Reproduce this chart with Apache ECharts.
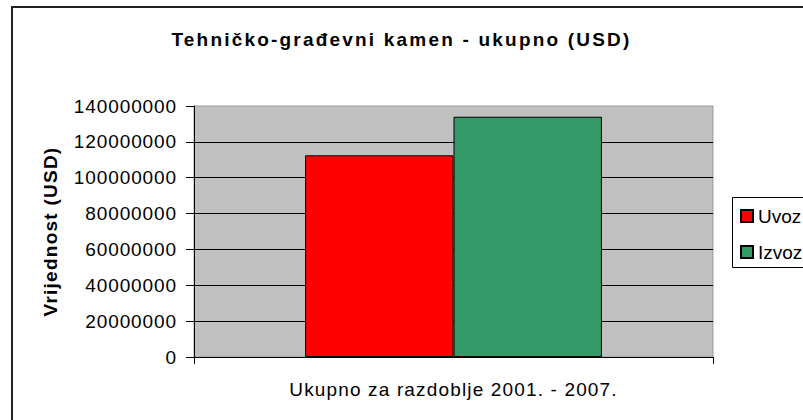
<!DOCTYPE html>
<html>
<head>
<meta charset="utf-8">
<script src="https://cdn.jsdelivr.net/npm/echarts@6/dist/echarts.min.js"></script>
<style>html,body{margin:0;padding:0;background:#fff}#c{width:803px;height:420px}</style>
</head>
<body>
<div id="c"></div>
<script>
const categories = ['Ukupno za razdoblje 2001. - 2007.'];
const seriesNames = ['Uvoz', 'Izvoz'];
const uvoz = [112500000];
const izvoz = [134000000];
const yMin = 0, yMax = 140000000, yInterval = 20000000;
const titleText = 'Tehničko-građevni kamen - ukupno (USD)';
const yAxisName = 'Vrijednost (USD)';

const FONT = '"Liberation Sans", Arial, sans-serif';
const chart = echarts.init(document.getElementById('c'), null, {renderer: 'svg'});
chart.setOption({
  animation: false,
  backgroundColor: '#fff',
  textStyle: {fontFamily: FONT, color: '#000'},
  title: {
    text: titleText,
    left: 'center', top: 30, padding: 0,
    textStyle: {fontFamily: FONT, fontSize: 19, fontWeight: 'bold', color: '#000'}
  },
  graphic: [
    {type: 'rect', z: -1, shape: {x: 12, y: 7, width: 900, height: 500},
     style: {fill: 'none', stroke: '#222', lineWidth: 2}},
    {type: 'rect', z: -1, shape: {x: 732.5, y: 197.5, width: 200, height: 70},
     style: {fill: '#fff', stroke: '#000', lineWidth: 1}}
  ],
  legend: {
    orient: 'vertical', left: 740, top: 206, padding: 0,
    itemWidth: 12, itemHeight: 12, itemGap: 16, icon: 'rect',
    textStyle: {fontFamily: FONT, fontSize: 19, color: '#000', lineHeight: 20},
    data: seriesNames
  },
  grid: {
    left: 194, right: 90, top: 106, bottom: 63,
    show: true, backgroundColor: '#c0c0c0', borderColor: '#999', borderWidth: 1
  },
  xAxis: {
    type: 'category', data: categories,
    axisLine: {lineStyle: {color: '#000', width: 1}},
    axisTick: {show: true, length: 7, lineStyle: {color: '#000'}},
    axisLabel: {fontFamily: FONT, fontSize: 19, color: '#000', margin: 23}
  },
  yAxis: {
    type: 'value', min: yMin, max: yMax, interval: yInterval,
    name: yAxisName, nameLocation: 'middle', nameGap: 134,
    nameTextStyle: {fontFamily: FONT, fontSize: 19, fontWeight: 'bold', color: '#000'},
    axisLine: {show: true, lineStyle: {color: '#000', width: 1}},
    axisTick: {show: true, length: 8, lineStyle: {color: '#000'}},
    axisLabel: {fontFamily: FONT, fontSize: 19, color: '#000', margin: 17,
                formatter: v => String(v)},
    splitLine: {show: true, showMaxLine: false, lineStyle: {color: '#000', width: 1}}
  },
  series: [
    {name: seriesNames[0], type: 'bar', data: uvoz, barGap: '0%', barCategoryGap: '42.8%',
     itemStyle: {color: '#ff0000', borderColor: '#000', borderWidth: 1}},
    {name: seriesNames[1], type: 'bar', data: izvoz, barGap: '0%', barCategoryGap: '42.8%',
     itemStyle: {color: '#339966', borderColor: '#000', borderWidth: 1}}
  ]
});

function spaceText() {
  document.querySelectorAll('#c text').forEach(t => {
    const s = t.textContent;
    let ls = 0.9;
    if (s === titleText) ls = 2.2;
    else if (s === yAxisName) ls = 1.25;
    else if (s === categories[0]) ls = 1.15;
    else if (seriesNames.includes(s)) ls = 0;
    t.setAttribute('letter-spacing', ls + 'px');
    t.style.letterSpacing = ls + 'px';
  });
}
spaceText();
chart.on('finished', spaceText);
</script>
</body>
</html>
